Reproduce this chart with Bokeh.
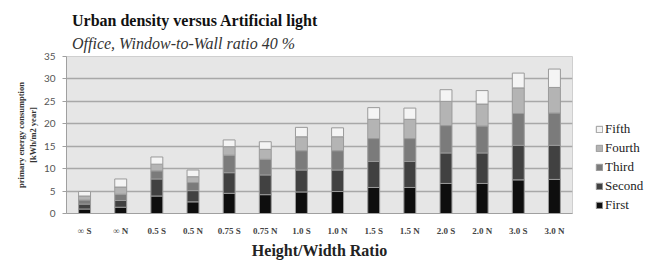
from bokeh.plotting import figure
from bokeh.models import ColumnDataSource, Legend, LegendItem, Title, FixedTicker
from bokeh.embed import file_html
from bokeh.resources import INLINE

ratios = ["∞ S", "∞ N", "0.5 S", "0.5 N", "0.75 S", "0.75 N", "1.0 S", "1.0 N",
          "1.5 S", "1.5 N", "2.0 S", "2.0 N", "3.0 S", "3.0 N"]
first = [1.0, 1.4, 3.9, 2.6, 4.5, 4.2, 4.8, 4.9, 5.8, 5.8, 6.7, 6.7, 7.5, 7.6]
second = [1.1, 1.5, 3.8, 2.5, 4.6, 4.4, 4.9, 4.8, 5.8, 5.8, 6.8, 6.8, 7.7, 7.6]
third = [0.9, 1.4, 1.8, 1.8, 3.9, 3.5, 4.3, 4.3, 5.1, 5.1, 6.1, 6.0, 7.1, 7.2]
fourth = [0.9, 1.6, 1.5, 1.3, 1.9, 2.2, 3.1, 3.1, 4.3, 4.3, 5.4, 4.9, 5.7, 5.7]
fifth = [1.0, 1.8, 1.6, 1.5, 1.5, 1.7, 2.1, 2.0, 2.6, 2.5, 2.6, 3.0, 3.3, 4.1]

series = ["First", "Second", "Third", "Fourth", "Fifth"]
colors = ["#0e0e0e", "#414141", "#7b7b7b", "#b4b4b4", "#f4f4f4"]
y_ticks = [0, 5, 10, 15, 20, 25, 30, 35]

src = ColumnDataSource(dict(x=ratios, First=first, Second=second, Third=third,
                            Fourth=fourth, Fifth=fifth))

p = figure(x_range=ratios, y_range=(0, 35), frame_width=506, frame_height=157,
           output_backend="svg", toolbar_location=None,
           min_border_left=66, min_border_right=74, min_border_bottom=47,
           min_border_top=56)

renderers = p.vbar_stack(series, x="x", source=src, width=0.33, color=colors,
                         line_color="#9a9a9a", line_width=1)

p.background_fill_color = "#e6e6e6"
p.border_fill_color = "white"
p.outline_line_color = "#cfcfcf"

p.ygrid.grid_line_color = "#a8a8a8"
p.ygrid.grid_line_width = 1.5
p.xgrid.grid_line_color = None
p.yaxis.ticker = FixedTicker(ticks=y_ticks)

p.yaxis.axis_line_color = "#a0a0a0"
p.yaxis.major_tick_line_color = "#a0a0a0"
p.yaxis.major_tick_out = 4
p.yaxis.major_tick_in = 0
p.yaxis.minor_tick_line_color = None
p.yaxis.major_label_text_font = "Lato"
p.yaxis.major_label_text_font_size = "10px"
p.yaxis.major_label_text_color = "#555555"
p.yaxis.major_label_standoff = 7
p.yaxis.axis_label = "primary energy consumption\n[kWh/m2 year]"
p.yaxis.axis_label_text_font = "Liberation Serif"
p.yaxis.axis_label_text_font_style = "bold"
p.yaxis.axis_label_text_font_size = "8.5px"
p.yaxis.axis_label_text_color = "#333333"
p.yaxis.axis_label_standoff = 3

p.xaxis.axis_line_color = "#a0a0a0"
p.xaxis.major_tick_line_color = None
p.xaxis.minor_tick_line_color = None
p.xaxis.major_label_text_font = "Liberation Serif"
p.xaxis.major_label_text_font_style = "bold"
p.xaxis.major_label_text_font_size = "9px"
p.xaxis.major_label_text_color = "#444444"
p.xaxis.major_label_standoff = 6
p.xaxis.axis_label = "Height/Width Ratio"
p.xaxis.axis_label_text_font = "Liberation Serif"
p.xaxis.axis_label_text_font_style = "bold"
p.xaxis.axis_label_text_font_size = "16px"
p.xaxis.axis_label_text_color = "#222222"
p.xaxis.axis_label_standoff = 3
p.x_range.range_padding = 0

sub = Title(text="Office, Window-to-Wall ratio 40 %", text_font="Liberation Serif",
            text_font_style="italic", text_font_size="16px", text_color="#333333",
            offset=5.5, standoff=9)
main = Title(text="Urban density versus Artificial light", text_font="Liberation Serif",
             text_font_style="bold", text_font_size="16px", text_color="#111111",
             offset=5.5, standoff=0)
p.add_layout(sub, "above")
p.add_layout(main, "above")

items = [LegendItem(label=s, renderers=[r]) for s, r in zip(series, renderers)]
items.reverse()
legend = Legend(items=items, location=(23, 0), orientation="vertical",
                label_text_font="Liberation Serif", label_text_font_style="normal",
                label_text_font_size="13px", label_text_color="#222222",
                glyph_width=8, glyph_height=8, label_height=14, label_standoff=2,
                spacing=3, padding=0, margin=0, border_line_color=None,
                background_fill_alpha=0)
p.add_layout(legend, "right")

open("out.html", "w").write(file_html(p, INLINE))
